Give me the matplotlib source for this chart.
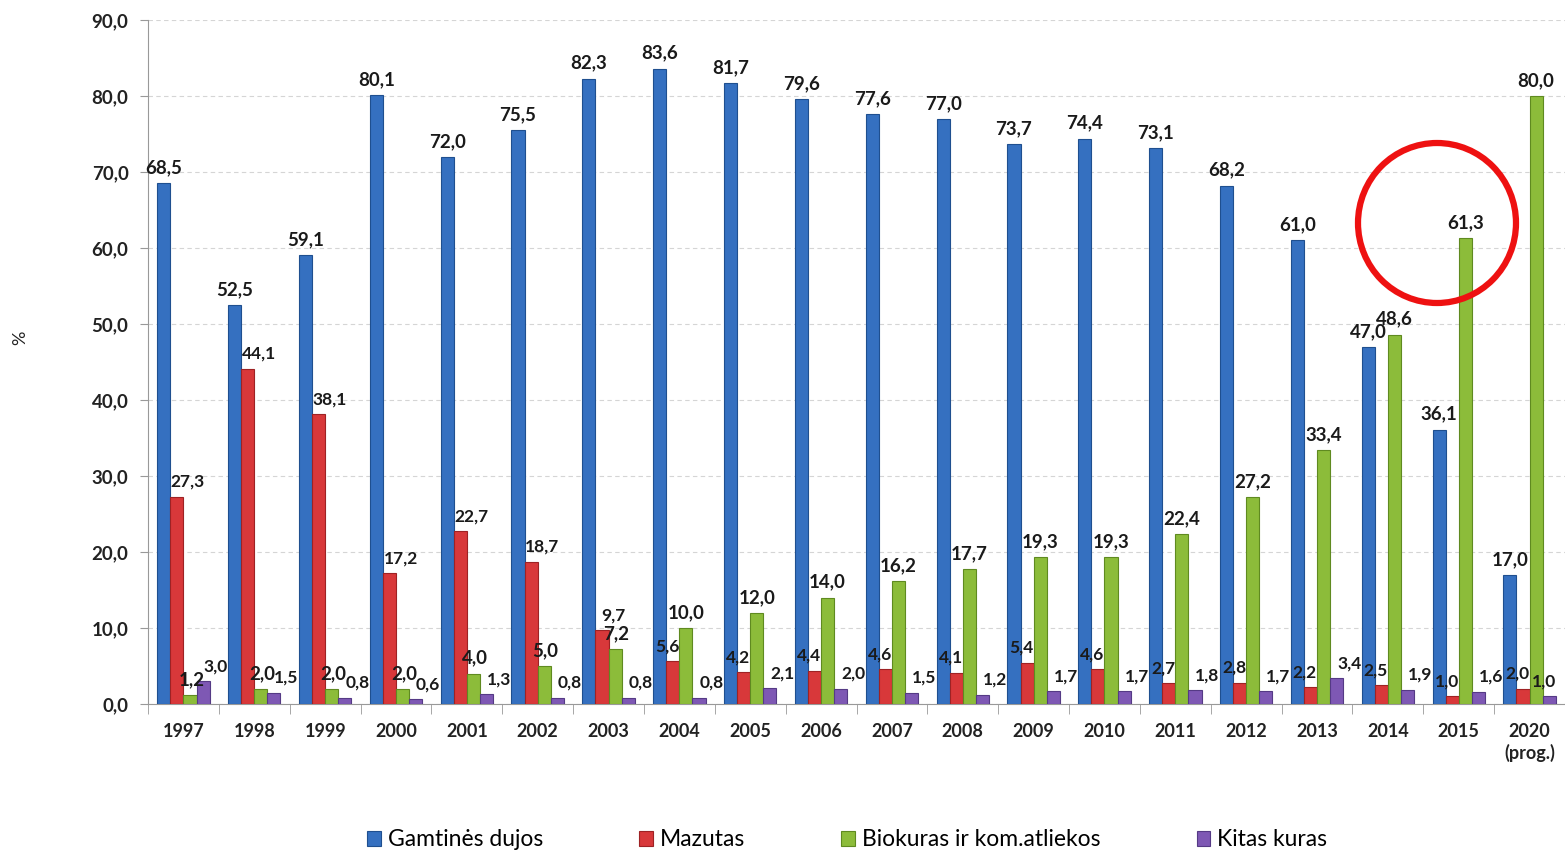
import numpy as np
import matplotlib.pyplot as plt
from matplotlib.patches import Ellipse

years = ["1997", "1998", "1999", "2000", "2001", "2002", "2003", "2004", "2005", "2006",
         "2007", "2008", "2009", "2010", "2011", "2012", "2013", "2014", "2015", "2020\n(prog.)"]
gamtines_dujos = [68.5, 52.5, 59.1, 80.1, 72.0, 75.5, 82.3, 83.6, 81.7, 79.6,
                  77.6, 77.0, 73.7, 74.4, 73.1, 68.2, 61.0, 47.0, 36.1, 17.0]
mazutas = [27.3, 44.1, 38.1, 17.2, 22.7, 18.7, 9.7, 5.6, 4.2, 4.4,
           4.6, 4.1, 5.4, 4.6, 2.7, 2.8, 2.2, 2.5, 1.0, 2.0]
biokuras = [1.2, 2.0, 2.0, 2.0, 4.0, 5.0, 7.2, 10.0, 12.0, 14.0,
            16.2, 17.7, 19.3, 19.3, 22.4, 27.2, 33.4, 48.6, 61.3, 80.0]
kitas_kuras = [3.0, 1.5, 0.8, 0.6, 1.3, 0.8, 0.8, 0.8, 2.1, 2.0,
               1.5, 1.2, 1.7, 1.7, 1.8, 1.7, 3.4, 1.9, 1.6, 1.0]
series_names = ["Gamtinės dujos", "Mazutas", "Biokuras ir kom.atliekos", "Kitas kuras"]
yticks = [0, 10, 20, 30, 40, 50, 60, 70, 80, 90]


def fmt(v):
    return ("%.1f" % v).replace(".", ",")


def label_dx(i, j, v):
    # small sideways nudges, roughly like the original chart
    if i == 1:
        return 8 if v > 9 else -4
    if i == 2:
        return 1 if v < 10 else 0
    if i == 3:
        return -4 if j == len(years) - 1 else 9
    return 0


def main():
    plt.rcParams['font.family'] = ['Lato', 'DejaVu Sans']
    fig = plt.figure(figsize=(15.65, 8.52), dpi=100)
    ax = fig.add_axes([148 / 1565, 1 - 704 / 852, 1417 / 1565, 684 / 852])

    data = [gamtines_dujos, mazutas, biokuras, kitas_kuras]
    colors = ["#3570c0", "#d8383a", "#8cbc3a", "#7e58b4"]
    edges = ["#1f4f8f", "#9e2224", "#5f8a20", "#553a85"]
    label_sizes = [13.5, 12.5, 13.5, 12.5]
    x = np.arange(len(years))
    w = 0.185
    for i, (vals, c, e) in enumerate(zip(data, colors, edges)):
        pos = x + (i - 1.5) * w
        ax.bar(pos, vals, width=w, color=c, edgecolor=e, linewidth=0.8,
               label=series_names[i], zorder=3)
        for j, (px, v) in enumerate(zip(pos, vals)):
            ax.annotate(fmt(v), (px, v), xytext=(label_dx(i, j, v), 5), textcoords="offset points",
                        ha="center", va="bottom", fontsize=label_sizes[i],
                        fontweight="bold", color="#1a1a1a", zorder=4)

    ax.set_xlim(-0.5, len(years) - 0.5)
    ax.set_ylim(0, 90)
    ax.set_yticks(yticks)
    ax.set_yticklabels([fmt(v) for v in yticks], fontsize=13.5, fontweight="bold", color="#222222")
    ax.set_xticks(x)
    ax.set_xticklabels(years, fontsize=13, fontweight="bold", color="#222222")
    ax.set_xticks(np.arange(len(years) + 1) - 0.5, minor=True)
    ax.tick_params(axis="x", which="major", length=0, pad=14)
    ax.tick_params(axis="x", which="minor", length=7, color="#999999")
    ax.tick_params(axis="y", length=6, color="#999999", pad=8)
    ax.yaxis.grid(True, linestyle=(0, (4, 3)), color="#d5d5d5", linewidth=0.8, zorder=0)
    for s in ["top", "right"]:
        ax.spines[s].set_visible(False)
    ax.spines["left"].set_color("#999999")
    ax.spines["bottom"].set_color("#999999")

    fig.text(20 / 1565, 1 - 338 / 852, "%", rotation=90, fontsize=13,
             ha="center", va="center", color="#222222")

    fig.legend(loc="center", bbox_to_anchor=(847 / 1565, 1 - 840 / 852), ncol=4,
               frameon=False, fontsize=16.5, handlelength=0.6, handleheight=0.6,
               handletextpad=0.3, columnspacing=4.2)

    circ = Ellipse((1437 / 1565, 1 - 223 / 852), 158 / 1565, 160 / 852,
                   transform=fig.transFigure, fill=False, edgecolor="#ee1111",
                   linewidth=4.5, zorder=10)
    fig.patches.append(circ)

    fig.savefig("out.png", dpi=100)


if __name__ == "__main__":
    main()
